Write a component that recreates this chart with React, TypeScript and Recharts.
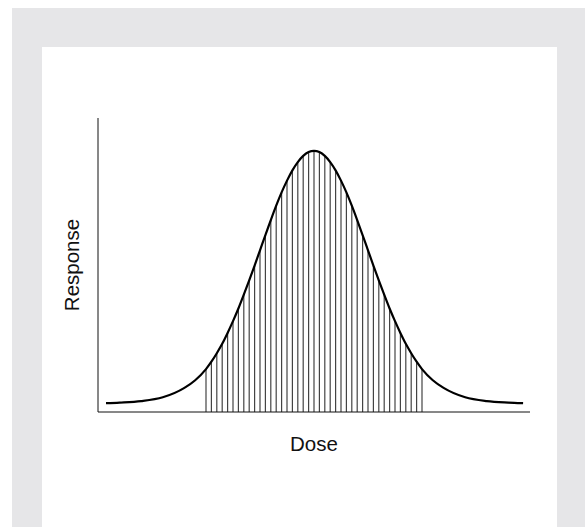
import {
  ComposedChart,
  Line,
  XAxis,
  YAxis,
  ReferenceLine,
  Label
} from "recharts"

// dose (x) and response (y)
const dose = [
  1.85, 5, 10, 15, 20, 22.5,
  25, 26.25, 27.5, 28.75, 30, 31.25, 32.5, 33.75, 35, 36.25,
  37.5, 38.75, 40, 41.25, 42.5, 43.75, 45, 46.25, 47.5, 48.75,
  50,
  51.25, 52.5, 53.75, 55, 56.25, 57.5, 58.75, 60, 61.25, 62.5,
  63.75, 65, 66.25, 67.5, 68.75, 70, 71.25, 72.5, 73.75, 75,
  77.5, 80, 85, 90, 95, 98.4
]

const response = [
  3.0, 3.2, 3.7, 5.0, 8.2, 10.8,
  14.6, 17.1, 20.0, 23.2, 26.9, 30.9, 35.2, 39.9, 44.8, 49.8,
  55.0, 60.2, 65.3, 70.2, 74.7, 78.7, 82.2, 85.0, 87.1, 88.4,
  88.8,
  88.4, 87.1, 85.0, 82.2, 78.7, 74.7, 70.2, 65.3, 60.2, 55.0,
  49.8, 44.8, 39.9, 35.2, 30.9, 26.9, 23.2, 20.0, 17.1, 14.6,
  10.8, 8.2, 5.0, 3.7, 3.2, 3.0
]

// hatched band under the curve
const bandFrom = 25
const bandTo = 75

const data = dose.map((d, i) => ({ dose: d, response: response[i] }))
const hatch = data.filter((p) => p.dose >= bandFrom && p.dose <= bandTo)

export default function App() {
  return (
    <div
      style={{
        position: "fixed",
        left: 12,
        top: 8,
        width: 573,
        height: 519,
        background: "#e6e6e8"
      }}
    >
      <div
        style={{
          position: "absolute",
          left: 30,
          top: 39,
          width: 515,
          height: 480,
          background: "#ffffff"
        }}
      >
        <ComposedChart
          width={515}
          height={480}
          data={data}
          margin={{ top: 71, right: 27, bottom: 51, left: 4 }}
          style={{ fontFamily: "'Liberation Sans', Arial, sans-serif" }}
        >
          <XAxis
            type="number"
            dataKey="dose"
            domain={[0, 100]}
            tick={false}
            tickLine={false}
            height={64}
            axisLine={{ stroke: "#111", strokeWidth: 1 }}
          >
            <Label value="Dose" position="center" fontSize={20.5} fill="#111" />
          </XAxis>
          <YAxis
            type="number"
            domain={[0, 100]}
            tick={false}
            tickLine={false}
            width={52}
            axisLine={{ stroke: "#111", strokeWidth: 1 }}
          >
            <Label
              value="Response"
              position="center"
              angle={-90}
              fontSize={20.5}
              fill="#111"
            />
          </YAxis>
          {hatch.map((p) => (
            <ReferenceLine
              key={p.dose}
              segment={[
                { x: p.dose, y: 0 },
                { x: p.dose, y: p.response }
              ]}
              stroke="#444"
              strokeWidth={1.2}
            />
          ))}
          <Line
            type="monotone"
            dataKey="response"
            stroke="#000"
            strokeWidth={2.2}
            dot={false}
            isAnimationActive={false}
          />
        </ComposedChart>
      </div>
    </div>
  )
}
